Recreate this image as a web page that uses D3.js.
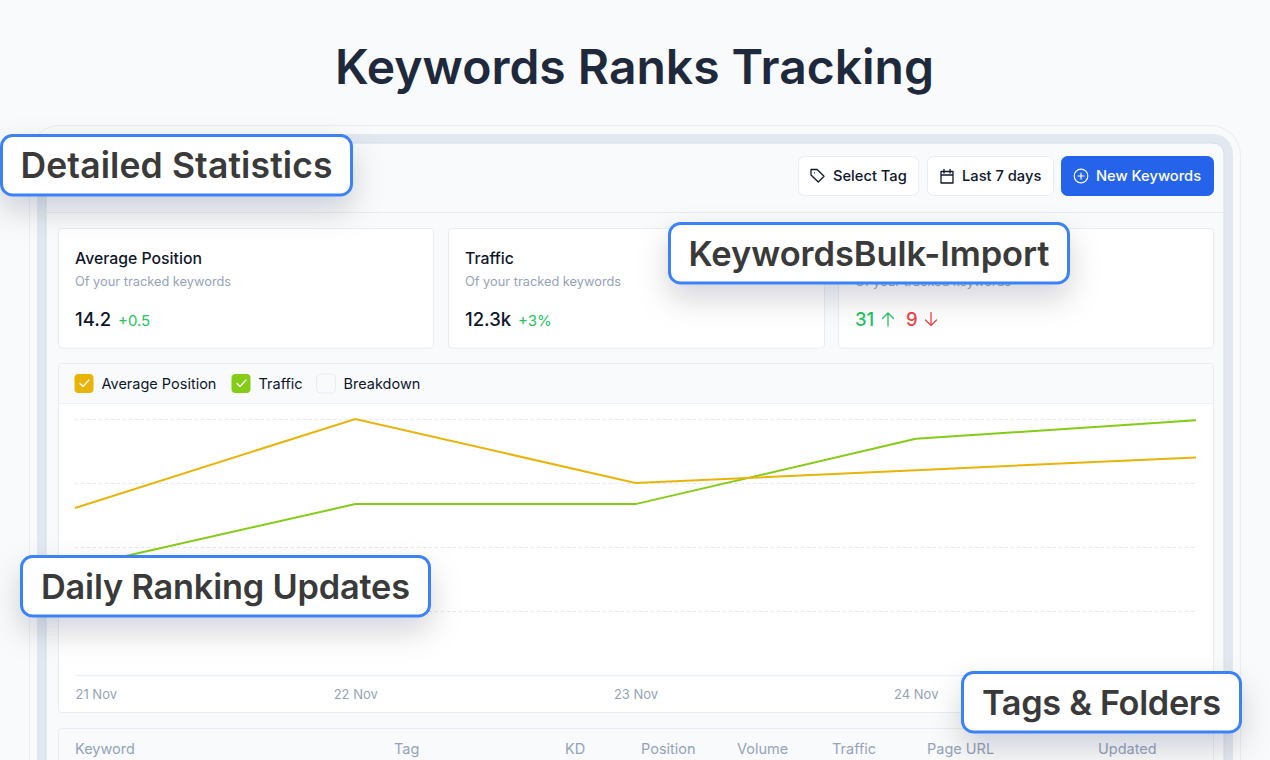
<!DOCTYPE html>
<html>
<head>
<meta charset="utf-8">
<title>Keywords Ranks Tracking</title>
<script src="https://cdn.jsdelivr.net/npm/d3@7"></script>
<style>
    html, body { margin: 0; padding: 0; background: #f8fafc; overflow: hidden; }
    svg { display: block; font-family: Inter, "Noto Sans", sans-serif; }
</style>
</head>
<body>
<div id="chart"></div>
<script>
// chart data
var dates = ["21 Nov", "22 Nov", "23 Nov", "24 Nov", "25 Nov"];
var avgPosition = [261, 400, 300, 320, 340];
var traffic = [168, 267, 267, 369, 398];
var gridValues = [0, 100, 200, 300, 400];

// text content
var legendNames = ["Average Position", "Traffic", "Breakdown"];
var tableColumns = ["Keyword", "Tag", "KD", "Position", "Volume", "Traffic", "Page URL", "Updated"];
var buttonNames = ["Select Tag", "Last 7 days", "New Keywords"];
var callouts = ["Detailed Statistics", "KeywordsBulk-Import", "Daily Ranking Updates", "Tags & Folders"];
var cardNames = ["Average Position", "Traffic"];

// layout, kept apart from the data
var columnX = [75, 394, 565, 641, 737, 832, 927, 1098];
var legendBoxX = [75, 232, 317];
var calloutBoxes = [[0, 134, 353, 312, 35.5], [668, 222, 402, 361, 34.5], [20, 555, 411, 369, 34.3], [961, 671, 281, 239, 34.3]];
var buttonBoxes = [[798, 121, 833], [927, 127, 962], [1061, 153, 1096]];
var cardBoxes = [[59, 375], [449, 376], [839, 375]];

var width = 1270, height = 760;
var svg = d3.select("#chart").append("svg")
    .attr("width", width)
    .attr("height", height);

// soft shadow for the callouts
var filter = svg.append("defs").append("filter")
    .attr("id", "shadow")
    .attr("x", "-30%").attr("y", "-80%")
    .attr("width", "160%").attr("height", "320%");
filter.append("feDropShadow")
    .attr("dx", 0).attr("dy", 14)
    .attr("stdDeviation", 15)
    .attr("flood-color", "#0f172a")
    .attr("flood-opacity", 0.17);

function box(x, y, w, h, r, fill, stroke) {
    return svg.append("rect")
        .attr("x", x).attr("y", y)
        .attr("width", w).attr("height", h)
        .attr("rx", r)
        .attr("fill", fill)
        .attr("stroke", stroke || "none");
}

function label(x, y, text, size, color, weight) {
    return svg.append("text")
        .attr("x", x).attr("y", y)
        .attr("font-size", size)
        .attr("font-weight", weight || 400)
        .attr("fill", color)
        .text(text);
}

function icon(x, y, d, color, w) {
    return svg.append("path")
        .attr("transform", "translate(" + x + "," + y + ")")
        .attr("d", d)
        .attr("fill", "none")
        .attr("stroke", color)
        .attr("stroke-width", w || 1.3)
        .attr("stroke-linecap", "round")
        .attr("stroke-linejoin", "round");
}

// page title
label(634.5, 84, "Keywords Ranks Tracking", 48, "#1e293b", 600).attr("text-anchor", "middle");

// app frame
box(29.5, 125.5, 1211, 700, 30, "none", "#e9eef5");
box(37, 134, 1196, 700, 20, "#e2e8f0");
box(46, 143, 1178, 700, 11, "#f8fafc", "#d5deea");
svg.append("line")
    .attr("x1", 46).attr("x2", 1224)
    .attr("y1", 212.5).attr("y2", 212.5)
    .attr("stroke", "#e8edf4");

// header buttons
buttonNames.forEach(function(name, i) {
    var b = buttonBoxes[i], blue = i === 2;
    box(b[0] + 0.5, 156.5, b[1] - 1, 39, 6, blue ? "#2563eb" : "#fff", blue ? "#2563eb" : "#e8edf4");
    label(b[2], 181, name, 14.7, blue ? "#fff" : "#0f172a", 500);
});
icon(810, 168, "M1 1.5h6.2l6.8 6.8-5.7 5.7-7.3-7z M4.5 4.8v0", "#0f172a");
icon(940, 169, "M1 2.5h12v11.5h-12z M1 6h12 M4 0.5v3.5 M10 0.5v3.5", "#0f172a");
svg.append("circle").attr("cx", 1081).attr("cy", 176).attr("r", 6.8)
    .attr("fill", "none").attr("stroke", "#fff").attr("stroke-width", 1.2);
icon(1081, 176, "M-3 0h6 M0 -3v6", "#fff", 1.2);

// stat cards, the third title sits behind a callout in the picture
cardBoxes.forEach(function(c, i) {
    box(c[0] - 0.5, 228.5, c[1], 119.5, 3, "#fff", "#e8edf4");
    if (cardNames[i]) label(c[0] + 16, 263.5, cardNames[i], 15.8, "#0f172a", 500);
    label(c[0] + 16, 285.5, "Of your tracked keywords", 12.8, "#94a3b8");
});
label(75, 326, "14.2", 18.5, "#0f172a", 500);
label(118, 326, "+0.5", 15, "#22c55e");
label(465, 326, "12.3k", 18.5, "#0f172a", 500);
label(518, 326, "+3%", 15, "#22c55e");
label(855, 326, "31", 18.5, "#22c55e", 500);
icon(888, 312, "M0 14v-13 M-5.5 6.5l5.5-5.5 5.5 5.5", "#22c55e");
label(906, 326, "9", 18.5, "#ef4444", 500);
icon(931, 312, "M0 0.5v13 M-5.5 8l5.5 5.5 5.5-5.5", "#ef4444");

// chart card
box(58.5, 363.5, 1155, 349, 3, "#fff", "#e8edf4");
box(59, 364, 1154, 39, 3, "#f8fafc");
svg.append("line")
    .attr("x1", 59).attr("x2", 1213)
    .attr("y1", 403.5).attr("y2", 403.5)
    .attr("stroke", "#edf1f6");

// legend
var legendFill = ["#eab308", "#84cc16", "#f8fafc"];
legendNames.forEach(function(name, i) {
    var lx = legendBoxX[i];
    box(lx - 0.5, 374, 19, 19, 4, legendFill[i], i === 2 ? "#e8edf4" : "none");
    if (i < 2) icon(lx + 4, 379, "M1 4.5l3 3 6-6.5", "#fff", 1.2);
    label(lx + 26.5, 389, name, 14.5, "#0f172a");
});

// scales and axes
var x = d3.scalePoint()
    .domain(dates)
    .range([75, 1196]);
var y = d3.scaleLinear()
    .domain([0, 400])
    .range([675, 419]);

svg.append("g")
    .selectAll("line")
    .data(gridValues.slice(1))
    .enter().append("line")
    .attr("x1", 75).attr("x2", 1196)
    .attr("y1", d => y(d) + 0.5).attr("y2", d => y(d) + 0.5)
    .attr("stroke", "#e2e8f0")
    .attr("stroke-dasharray", "3,3");

var xAxis = svg.append("g")
    .attr("transform", "translate(0,675)")
    .call(d3.axisBottom(x).tickSize(0).tickPadding(14.5));
xAxis.select(".domain").attr("stroke", "#edf1f6").attr("stroke-width", 1.5);
xAxis.selectAll("text")
    .attr("font-family", "Inter, sans-serif")
    .attr("font-size", 13)
    .attr("fill", "#94a3b8")
    .attr("text-anchor", (d, i) => i === 0 ? "start" : "middle");
// last date is covered by the Tags & Folders callout in the picture
xAxis.selectAll(".tick").filter(d => d === dates[dates.length - 1]).select("text").remove();

// series lines
var line = d3.line()
    .x((d, i) => x(dates[i]))
    .y(d => y(d));
svg.append("path").datum(traffic)
    .attr("d", line).attr("fill", "none")
    .attr("stroke", "#84cc16").attr("stroke-width", 2);
svg.append("path").datum(avgPosition)
    .attr("d", line).attr("fill", "none")
    .attr("stroke", "#eab308").attr("stroke-width", 2);

// table header
box(58.5, 728.5, 1155, 100, 3, "#f8fafc", "#e8edf4");
tableColumns.forEach(function(name, i) {
    label(columnX[i], 754, name, 14.5, "#94a3b8");
});

// callouts go on top of everything
callouts.forEach(function(text, i) {
    var c = calloutBoxes[i];
    svg.append("rect")
        .attr("x", c[0] + 1.5).attr("y", c[1] + 1.5)
        .attr("width", c[2] - 3).attr("height", 59.5)
        .attr("rx", 11)
        .attr("fill", "#fff")
        .attr("stroke", "#3b82f6")
        .attr("stroke-width", 3)
        .attr("filter", "url(#shadow)");
    label(c[0] + c[2] / 2, c[1] + 43.5, text, c[4], "#3a3a3a", 600)
        .attr("text-anchor", "middle")
        .attr("textLength", c[3])
        .attr("lengthAdjust", "spacing");
});
</script>
</body>
</html>
